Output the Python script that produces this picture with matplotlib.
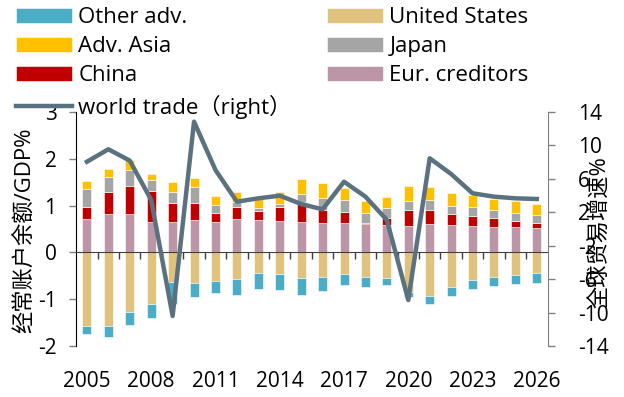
import numpy as np
import matplotlib
matplotlib.use("Agg")
import matplotlib.pyplot as plt
import matplotlib.transforms as mtransforms

plt.rcParams['font.family'] = ['Open Sans', 'Noto Sans CJK SC', 'DejaVu Sans']
plt.rcParams['axes.unicode_minus'] = False

# ---- data ----
years = list(range(2005, 2027))
eur_creditors = [0.72, 0.83, 0.81, 0.66, 0.65, 0.70, 0.65, 0.72, 0.70, 0.68, 0.66,
                 0.63, 0.63, 0.60, 0.59, 0.56, 0.61, 0.58, 0.56, 0.55, 0.54, 0.53]
china = [0.26, 0.45, 0.61, 0.66, 0.40, 0.36, 0.19, 0.26, 0.18, 0.29, 0.42,
         0.27, 0.23, 0.03, 0.14, 0.34, 0.29, 0.24, 0.22, 0.18, 0.13, 0.10]
japan = [0.37, 0.34, 0.35, 0.22, 0.24, 0.34, 0.17, 0.09, 0.07, 0.06, 0.17,
         0.26, 0.25, 0.21, 0.22, 0.20, 0.22, 0.17, 0.18, 0.18, 0.18, 0.17]
adv_asia = [0.17, 0.17, 0.20, 0.14, 0.21, 0.20, 0.19, 0.21, 0.23, 0.25, 0.32,
            0.32, 0.27, 0.25, 0.23, 0.31, 0.27, 0.28, 0.26, 0.23, 0.24, 0.24]
united_states = [-1.58, -1.58, -1.27, -1.10, -0.63, -0.66, -0.62, -0.56, -0.43, -0.46, -0.55,
                 -0.52, -0.46, -0.52, -0.55, -0.85, -0.93, -0.74, -0.59, -0.53, -0.48, -0.45]
other_adv = [-0.16, -0.22, -0.29, -0.31, -0.47, -0.29, -0.24, -0.34, -0.35, -0.34, -0.35,
             -0.31, -0.24, -0.23, -0.15, -0.10, -0.17, -0.19, -0.19, -0.18, -0.19, -0.20]
world_trade = [8.05, 9.54, 8.18, 3.47, -10.41, 12.84, 7.06, 3.27, 3.67, 3.99, 2.99,
               2.35, 5.66, 3.87, 1.08, -8.50, 8.46, 6.58, 4.27, 3.87, 3.67, 3.59]
label_years = [2005, 2008, 2011, 2014, 2017, 2020, 2023, 2026]

C_OTHER = '#4BACC6'
C_ASIA = '#FFC000'
C_CHINA = '#C00000'
C_US = '#DFC27D'
C_JAPAN = '#A5A5A5'
C_EUR = '#BC95A6'
C_LINE = '#5A717F'

fig = plt.figure(figsize=(6.24, 3.97), dpi=100)
ax = fig.add_axes([0.1218, 0.1285, 0.756, 0.5894])

x = np.array(years)
w = 0.42
kw = dict(width=w, edgecolor='white', linewidth=0.4)

# positive stack
b = np.zeros(len(x))
h_eur = ax.bar(x, eur_creditors, bottom=b, color=C_EUR, **kw); b += eur_creditors
h_china = ax.bar(x, china, bottom=b, color=C_CHINA, **kw); b += china
h_japan = ax.bar(x, japan, bottom=b, color=C_JAPAN, **kw); b += japan
h_asia = ax.bar(x, adv_asia, bottom=b, color=C_ASIA, **kw)
# negative stack
h_us = ax.bar(x, united_states, color=C_US, **kw)
h_other = ax.bar(x, other_adv, bottom=united_states, color=C_OTHER, **kw)

ax.set_xlim(2004.49, 2026.51)
ax.set_ylim(-2, 3)
ax.set_yticks(range(-2, 4))
ax.spines['top'].set_visible(False)
ax.spines['right'].set_visible(False)
ax.spines['bottom'].set_position(('data', 0))
ax.spines['bottom'].set_color('#404040')
ax.spines['left'].set_color('black')
ax.set_xticks(np.arange(2005.5, 2026, 1.0))
ax.set_xticklabels([])
ax.tick_params(axis='x', direction='out', length=5, width=1, color='#404040')
ax.tick_params(axis='y', direction='out', length=5, width=1, color='#808080',
               labelsize=15, pad=9)

trans = mtransforms.blended_transform_factory(ax.transData, ax.transAxes)
for yr in label_years:
    ax.text(yr, -0.15, str(yr), transform=trans, ha='center', va='center', fontsize=15)

ax2 = ax.twinx()
h_line, = ax2.plot(x, world_trade, color=C_LINE, lw=3.2)
ax2.set_ylim(-14, 14)
ax2.set_yticks(range(-14, 15, 4))
ax2.spines['top'].set_visible(False)
ax2.spines['left'].set_visible(False)
ax2.spines['bottom'].set_visible(False)
ax2.spines['right'].set_color('#808080')
ax2.tick_params(axis='y', direction='out', length=5, width=1, color='#808080',
                labelsize=15, pad=17)

# axis titles (they overlap the tick labels in the original too)
fig.text(0.0385, 0.421, '经常账户余额/GDP%', rotation=90, ha='center', va='center',
         fontsize=16)
fig.text(0.963, 0.416, '全球贸易增速%', rotation=90, ha='center', va='center',
         fontsize=16)

handles = [h_other, h_asia, h_china, h_line, h_us, h_japan, h_eur]
labels = ['Other adv.', 'Adv. Asia', 'China', 'world trade（right）',
          'United States', 'Japan', 'Eur. creditors']
fig.legend(handles, labels, ncol=2, loc='upper left', bbox_to_anchor=(0.022, 0.988),
           frameon=False, fontsize=16, handlelength=2.5, handleheight=0.65,
           handletextpad=0.3, labelspacing=0.37, columnspacing=1.6, borderaxespad=0,
           borderpad=0.1)

fig.savefig('out.png', dpi=100)
